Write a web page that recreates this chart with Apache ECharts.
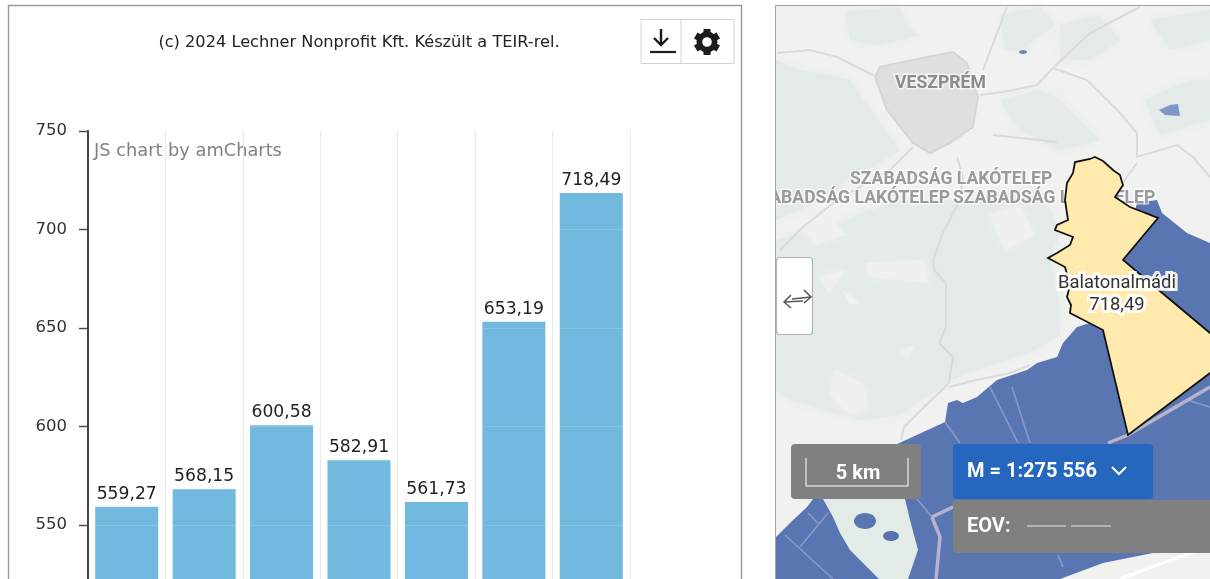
<!DOCTYPE html>
<html><head><meta charset="utf-8">
<style>html,body{margin:0;padding:0;background:#fff;overflow:hidden}#c{width:1210px;height:579px;filter:blur(0.45px)}</style>
<script src="https://cdn.jsdelivr.net/npm/echarts@6/dist/echarts.min.js"></script>
</head><body><div id="c"></div>
<script>
// ---- chart data ----
const categories = ['1', '2', '3', '4', '5', '6', 'Balatonalmádi'];
const values = [559.27, 568.15, 600.58, 582.91, 561.73, 653.19, 718.49];
const yTicks = { min: 500, max: 750, interval: 50 };
const titleText = '(c) 2024 Lechner Nonprofit Kft. Készült a TEIR-rel.';
const creditText = 'JS chart by amCharts';
const fmt = v => v.toFixed(2).replace('.', ',');

// ---- decorative map backdrop (screenshot's right-hand panel) ----
const LAND='#f1f2f0', GREEN='#e3eae7', LIGHT='#f0f1ef', LAKE='#5a76b2', ROAD='#d9dbd9', PINK='#b7b3cc', THIN='#8c9ac9';
const greens = [
 [[776,60],[800,70],[850,80],[870,110],[900,150],[850,180],[800,210],[776,220]],
 [[845,12],[900,7],[905,25],[920,35],[880,45],[850,40]],
 [[776,240],[830,225],[900,200],[960,200],[1040,190],[1060,230],[1050,260],[1060,310],[1060,335],[1030,352],[1000,362],[950,380],[900,415],[860,420],[790,400],[776,390]],
 [[1000,100],[1040,90],[1060,100],[1085,125],[1100,140],[1060,150],[1020,130]],
 [[1060,25],[1100,15],[1120,40],[1090,60],[1060,60]],
 [[1145,100],[1190,80],[1210,80],[1210,120],[1160,135]],
 [[1000,15],[1040,7],[1055,25],[1020,50],[1005,50]],
 [[1150,20],[1210,10],[1210,40],[1170,50]]
];
const lights = [
 [[866,263],[923,260],[929,283],[869,277]],
 [[819,277],[846,270],[829,293]],
 [[843,290],[859,302],[850,306]],
 [[834,370],[863,383],[869,407],[850,415],[830,395]],
 [[900,350],[915,345],[908,360]],
 [[990,215],[1020,205],[1035,235],[1005,250]],
 [[800,225],[830,215],[845,235],[815,245]]
];
const veszprem = [[875,77],[880,67],[927,57],[953,52],[967,63],[978,97],[973,127],[950,143],[930,153],[913,143],[887,110]];
const lake = [[775,538],[790,523],[807,507],[813,499],[895,445],[945,422],[948,403],[957,400],[963,403],[977,397],[997,380],[1027,370],[1037,363],[1057,357],[1063,343],[1077,327],[1090,323],[1103,330],[1137,203],[1157,200],[1162,213],[1167,217],[1187,233],[1210,243],[1210,545],[1153,553],[1103,563],[1060,579],[775,579]];
const tihany = [[823,499],[833,517],[840,533],[850,550],[877,577],[879,579],[908,579],[918,550],[910,520],[905,499]];
const almadi = [[1095,157],[1103,161],[1113,170],[1120,175],[1122,182],[1123,185],[1115,197],[1130,207],[1158,218],[1123,260],[1167,297],[1210,333],[1225,345],[1225,365],[1210,373],[1128,435],[1103,330],[1070,313],[1071,305],[1067,297],[1070,285],[1065,267],[1048,258],[1057,253],[1070,245],[1073,237],[1055,230],[1057,225],[1068,220],[1065,200],[1067,183],[1073,173],[1075,162],[1090,159]];
const roads = [
 [[777,53],[810,50],[837,57],[873,75]],
 [[980,95],[1003,92],[1037,85],[1053,68],[1090,33],[1140,7]],
 [[1053,68],[1087,80],[1120,113],[1137,133],[1137,157],[1177,145],[1193,157],[1210,177]],
 [[1137,163],[1120,187]],
 [[983,70],[997,33],[1007,7]],
 [[913,147],[890,170],[837,200],[803,227],[780,250]],
 [[957,157],[963,177],[960,200],[943,233],[933,260],[934,270],[946,283],[946,327],[939,343],[953,357],[949,383],[919,412],[904,427],[901,440]],
 [[949,387],[976,380],[1010,373],[1030,365]],
 [[993,135],[1057,142]]
];
const thickPink = [[[1108,443],[1128,435],[1210,387]],[[932,517],[953,507]],[[932,517],[940,537],[936,579]]];
const thinLines = [[[990,387],[1018,443]],[[1012,387],[1030,443]],[[945,422],[960,443]],[[917,499],[932,517]],[[808,513],[818,523]],[[828,513],[800,547]],[[785,535],[833,579]],[[1187,400],[1210,407]],[[1058,555],[1063,567]]];

const poly = (points, fill, extra) => ({type:'polygon', silent:true, shape:{points}, style:Object.assign({fill}, extra||{})});
const soft = (p, c) => poly(p, c, {shadowBlur:12, shadowColor:c});
const line = (points, stroke, lineWidth) => ({type:'polyline', silent:true, shape:{points}, style:{stroke, lineWidth, fill:null}});
const rect = (x,y,width,height,style,r) => ({type:'rect', silent:true, shape:{x,y,width,height,r:r||0}, style});
const txt = (text,x,y,font,fill,extra) => ({type:'text', silent:true, style:Object.assign({text,x,y,font,fill,textAlign:'left',textVerticalAlign:'middle'}, extra||{})});
const halo = {stroke:'rgba(255,255,255,0.6)', lineWidth:3};
const labelHalo = {textAlign:'center', stroke:'rgba(255,255,255,0.9)', lineWidth:6};

const mapEls = [
 rect(775,6,440,580,{fill:LAND}),
 ...greens.map(p=>soft(p,GREEN)),
 ...lights.map(p=>soft(p,LIGHT)),
 poly(veszprem,'#dfdfdf',{stroke:'#d4d6d4',lineWidth:2}),
 ...roads.map(p=>line(p,ROAD,2)),
 {type:'ellipse',silent:true,shape:{cx:1023,cy:52,rx:4,ry:2},style:{fill:'#6f86bb'}},
 poly([[1159,110],[1170,105],[1178,104],[1180,116],[1165,115]],'#7f96c8'),
 poly(lake,LAKE),
 poly(tihany,'#e3ebe6'),
 {type:'ellipse',silent:true,shape:{cx:865,cy:521,rx:11,ry:8},style:{fill:LAKE}},
 {type:'ellipse',silent:true,shape:{cx:891,cy:536,rx:8,ry:5},style:{fill:LAKE}},
 ...thinLines.map(p=>line(p,THIN,1.5)),
 ...thickPink.map(p=>line(p,PINK,3.5)),
 line([[1120,579],[1190,553],[1210,548]],'#ffffff',3),
 txt('VESZPRÉM',895,84,'bold 17.6px Roboto','#8b8b8b',halo),
 txt('SZABADSÁG LAKÓTELEP',850,180,'bold 17.6px Roboto','#9a9a9a',halo),
 txt('SZABADSÁG LAKÓTELEP',953,199,'bold 17.6px Roboto','#9a9a9a',halo),
 txt('SZABADSÁG LAKÓTELEP',950,199,'bold 17.6px Roboto','#9a9a9a',Object.assign({textAlign:'right'},halo)),
 rect(742,0,33,579,{fill:'#fff'}),
 poly(almadi,'#ffe9ad',{stroke:'#111',lineWidth:1.8}),
 txt('Balatonalmádi',1117,283,'18.4px Roboto','#333',labelHalo),
 txt('718,49',1117,305,'18.4px Roboto','#333',labelHalo),
 // slider button
 rect(776.5,257.5,36,77,{fill:'#fff',stroke:'#b5b5b5',lineWidth:1.2},3),
 line([[792,299],[811,297]],'#555',1.5),
 line([[804,290],[811,297],[804,303]],'#555',1.5),
 line([[784,302],[803,301]],'#555',1.5),
 line([[791,295],[784,302],[791,308]],'#555',1.5),
 // scale + scale ratio + EOV
 rect(791,444,130,55,{fill:'#808080'},4),
 line([[806,458],[806,486],[908,486],[908,458]],'#fff',1),
 txt('5 km',858,474,'bold 20px Roboto','#fff',{textAlign:'center'}),
 rect(953,444,200,55,{fill:'#2566be'},4),
 txt('M = 1:275 556',967,472,'bold 20px Roboto','#fff'),
 line([[1112,467],[1119,474],[1126,467]],'#fff',2),
 rect(953,500,260,53,{fill:'#808080'},4),
 txt('EOV:',967,527,'bold 20px Roboto','#fff'),
 line([[1027,526],[1066,526]],'#e8e8e8',1.2),
 line([[1071,526],[1111,526]],'#e8e8e8',1.2),
 rect(775.5,5.5,440,590,{fill:null,stroke:'#a3a3a3',lineWidth:1})
];

// ---- chart chrome ----
const gearTeeth = [0,1,2,3,4,5].map(i=>({type:'rect',silent:true,x:707,y:42,rotation:i*Math.PI/3,shape:{x:-3.5,y:-13,width:7,height:6},style:{fill:'#1c1c1c'}}));
const chromeEls = [
 rect(8.5,5.5,733,700,{fill:'#fff',stroke:'#9a9a9a',lineWidth:1.4}),
 rect(641,19.5,93,44,{fill:'#fff',stroke:'#d2d2d2',lineWidth:1}),
 line([[681,19.5],[681,63.5]],'#d2d2d2',1),
 line([[661,29],[661,45]],'#1c1c1c',2.4),
 line([[654,38],[661,45],[668,38]],'#1c1c1c',2.4),
 line([[650,52],[676,52]],'#1c1c1c',2.2),
 {type:'ring',silent:true,shape:{cx:707,cy:42,r:10.5,r0:4.8},style:{fill:'#1c1c1c'}},
 ...gearTeeth,
 txt(titleText,359,43,'16.2px "DejaVu Sans"','#222',{textAlign:'center'}),
 txt(creditText,94,151,'17.8px "DejaVu Sans"','#808080')
];

const chart = echarts.init(document.getElementById('c'), null, {renderer:'canvas'});
chart.setOption({
 animation:false,
 backgroundColor:'#fff',
 graphic:{z:0, elements:[...mapEls,...chromeEls]},
 grid:{left:88, top:131, width:542, height:492.5, z:3, outerBoundsMode:'none', containLabel:false},
 xAxis:{type:'category', data:categories, z:3,
  axisLine:{show:false}, axisTick:{show:false}, axisLabel:{show:false},
  splitLine:{show:true, interval:0, lineStyle:{color:'#e9e9e9', width:1}}},
 yAxis:{type:'value', min:yTicks.min, max:yTicks.max, interval:yTicks.interval, z:5,
  axisLine:{show:true, lineStyle:{color:'#444', width:2}},
  axisTick:{show:true, length:9, lineStyle:{color:'#444', width:1.4}},
  axisLabel:{color:'#333', fontFamily:'"DejaVu Sans"', fontSize:16.5, margin:21, padding:[3,0,0,0]},
  splitLine:{show:true, lineStyle:{color:'rgba(255,255,255,0.16)', width:1}}},
 series:[{type:'bar', data:values, barCategoryGap:'18.6%', z:4,
  itemStyle:{color:'#72b9df'},
  label:{show:true, position:'top', distance:4, color:'#222', fontFamily:'"DejaVu Sans"', fontSize:17.2, formatter:p=>fmt(p.value)}}]
});
</script></body></html>
